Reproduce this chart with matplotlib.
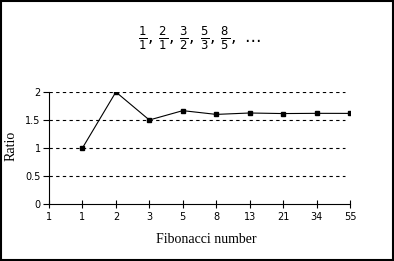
import numpy as np
import matplotlib.pyplot as plt
from matplotlib.patches import Rectangle

# data
fib_labels = ["1", "1", "2", "3", "5", "8", "13", "21", "34", "55"]
ratio_pos = [2, 3, 4, 5, 6, 7, 8, 9, 10]
ratio = [1.0, 2.0, 1.5, 1.667, 1.6, 1.625, 1.615, 1.619, 1.618]
y_ticks = [0, 0.5, 1, 1.5, 2]
y_tick_labels = ["0", "0.5", "1", "1.5", "2"]

plt.rcParams['mathtext.fontset'] = 'dejavusans'

fig = plt.figure(figsize=(3.94, 2.61), dpi=100)
ax = fig.add_axes([49/394, 1-204/261, 301/394, 112/261])

# frame round the whole picture
fig.patches.append(Rectangle((0.5/394, 1.5/261), 392/394, 258.5/261, transform=fig.transFigure,
                             fill=False, edgecolor="black", linewidth=1.5))

for y in y_ticks[1:]:
    ax.plot([1, 9.85], [y, y], color="black", linestyle=(0, (3, 3)), linewidth=0.8)

ax.plot(ratio_pos, ratio, color="black", linewidth=0.8, marker="s", markersize=3.5)

ax.set_xlim(1, 10)
ax.set_ylim(0, 2)
ax.set_xticks(range(1, 11))
ax.set_xticklabels(fib_labels)
ax.set_yticks(y_ticks)
ax.set_yticklabels(y_tick_labels)
ax.tick_params(axis="x", direction="inout", length=6, width=0.8, labelsize=7, pad=3)
ax.tick_params(axis="y", direction="out", length=4, width=0.8, labelsize=7, pad=2)
ax.spines["top"].set_visible(False)
ax.spines["right"].set_visible(False)
for s in ["left", "bottom"]:
    ax.spines[s].set_linewidth(0.8)

ax.set_xlabel("Fibonacci number", family="Liberation Serif", fontsize=10)
ax.set_ylabel("Ratio", family="Liberation Serif", fontsize=10)
ax.xaxis.set_label_coords(0.522, -0.255)
ax.yaxis.set_label_coords(-0.106, 0.518)

fig.text(199/394, 1-38/261, r"$\frac{1}{1},\,\frac{2}{1},\,\frac{3}{2},\,\frac{5}{3},\,\frac{8}{5},\ \ldots$",
         fontsize=12, ha="center", va="center")

fig.savefig("out.png", dpi=100)
